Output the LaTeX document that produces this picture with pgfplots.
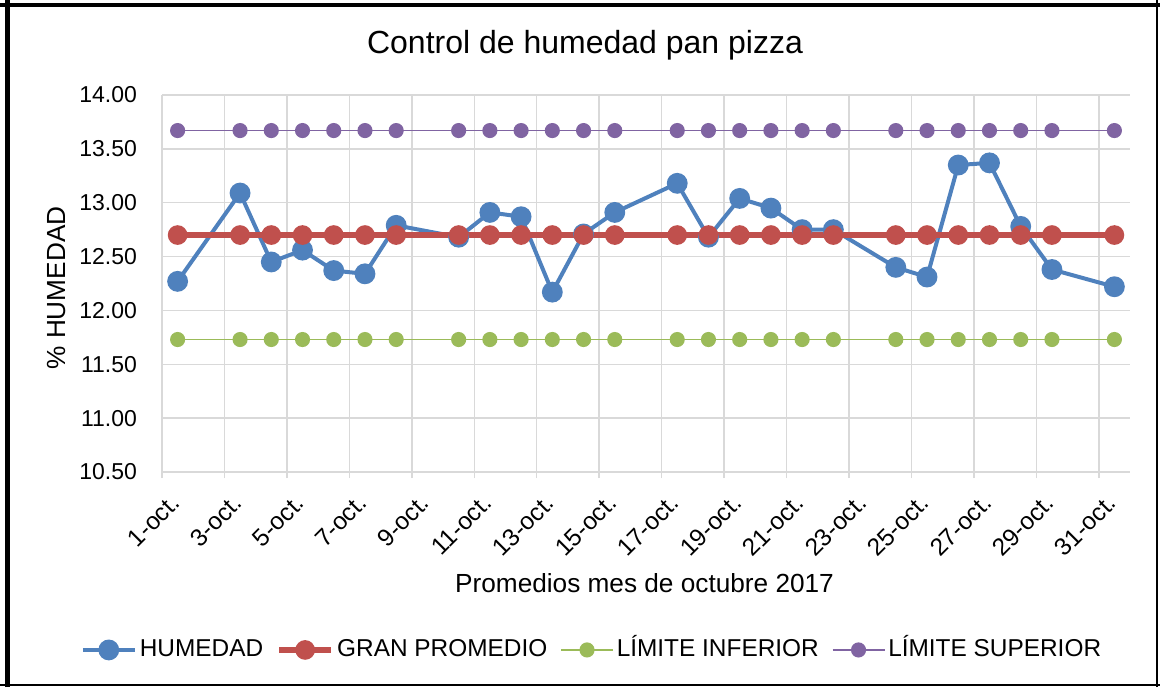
\documentclass[border=0pt]{standalone}
\usepackage{pgfplots}
\pgfplotsset{compat=1.18}
\usepackage{pgfplotstable}
\usepackage{fontspec}
\setmainfont{Liberation Sans}
\definecolor{cblue}{HTML}{4F81BD}
\definecolor{cred}{HTML}{C0504D}
\definecolor{cgreen}{HTML}{9BBB59}
\definecolor{cpurple}{HTML}{8064A2}
\definecolor{cgrid}{HTML}{D9D9D9}
\pgfplotstableread{
day hum gp li ls
1 12.27 12.70 11.73 13.67
3 13.09 12.70 11.73 13.67
4 12.45 12.70 11.73 13.67
5 12.56 12.70 11.73 13.67
6 12.37 12.70 11.73 13.67
7 12.34 12.70 11.73 13.67
8 12.79 12.70 11.73 13.67
10 12.68 12.70 11.73 13.67
11 12.91 12.70 11.73 13.67
12 12.87 12.70 11.73 13.67
13 12.17 12.70 11.73 13.67
14 12.71 12.70 11.73 13.67
15 12.91 12.70 11.73 13.67
17 13.18 12.70 11.73 13.67
18 12.68 12.70 11.73 13.67
19 13.04 12.70 11.73 13.67
20 12.95 12.70 11.73 13.67
21 12.75 12.70 11.73 13.67
22 12.75 12.70 11.73 13.67
24 12.40 12.70 11.73 13.67
25 12.31 12.70 11.73 13.67
26 13.35 12.70 11.73 13.67
27 13.37 12.70 11.73 13.67
28 12.78 12.70 11.73 13.67
29 12.38 12.70 11.73 13.67
31 12.22 12.70 11.73 13.67
}\datatable
\begin{document}
\begin{tikzpicture}
\useasboundingbox (0,0) rectangle (580pt,343.5pt);
\begin{axis}[
  at={(81pt,107.5pt)}, anchor=south west,
  scale only axis, width=484pt, height=188.5pt,
  xmin=0.5, xmax=31.5, ymin=10.5, ymax=14,
  xtick={0.5,2.5,...,30.5},
  xticklabels={1-oct.,3-oct.,5-oct.,7-oct.,9-oct.,11-oct.,13-oct.,15-oct.,17-oct.,19-oct.,21-oct.,23-oct.,25-oct.,27-oct.,29-oct.,31-oct.},
  ytick={10.5,11,...,14},
  yticklabel style={/pgf/number format/fixed, /pgf/number format/fixed zerofill, /pgf/number format/precision=2, xshift=-6pt},
  /pgf/number format/assume math mode=true,
  tick label style={font=\fontsize{11.5pt}{13pt}\selectfont},
  xticklabel style={font=\fontsize{12.2pt}{14pt}\selectfont, xshift=9pt, yshift=-8pt, rotate=45, anchor=east},
  grid=major,
  grid style={cgrid, line width=0.75pt},
  axis line style={draw=none},
  xtick pos=bottom, ytick pos=left,
  tick align=outside, major tick length=3pt,
  xtick style={cgrid, line width=0.75pt},
  ytick style={draw=none},
  legend columns=4,
  legend style={at={(axis description cs:0.4447,-0.472)}, anchor=center, draw=none, fill=none,
    font=\fontsize{12.2pt}{14pt}\selectfont, inner sep=0pt,
    nodes={inner sep=1.5pt, text height=9pt, text depth=2.5pt},
    /tikz/every even column/.append style={column sep=5pt}},
  legend cell align=left,
  legend image code/.code={\draw[mark repeat=2,mark phase=2,#1] plot coordinates {(0pt,0pt) (13pt,0pt) (26pt,0pt)};},
]
\addplot[cblue, line width=2pt, mark=*, mark size=4.2pt, mark options={draw=none, fill=cblue}] table[x=day,y=hum] {\datatable};
\addlegendentry{HUMEDAD}
\addplot[cred, line width=3pt, mark=*, mark size=3.4pt, mark options={draw=none, fill=cred}] table[x=day,y=gp] {\datatable};
\addlegendentry{GRAN PROMEDIO}
\addplot[cgreen, line width=0.75pt, mark=*, mark size=3.4pt, mark options={draw=none, fill=cgreen}] table[x=day,y=li] {\datatable};
\addlegendentry{LÍMITE INFERIOR}
\addplot[cpurple, line width=0.75pt, mark=*, mark size=3.4pt, mark options={draw=none, fill=cpurple}] table[x=day,y=ls] {\datatable};
\addlegendentry{LÍMITE SUPERIOR}
\end{axis}
\node[anchor=base, font=\fontsize{16pt}{19pt}\selectfont] at (292.5pt,316.5pt) {Control de humedad pan pizza};
\node[anchor=base, font=\fontsize{13.1pt}{15pt}\selectfont] at (322.25pt,47.5pt) {Promedios mes de octubre 2017};
\node[anchor=base, rotate=90, font=\fontsize{13.1pt}{15pt}\selectfont] at (32.5pt,199.5pt) {\% HUMEDAD};
\draw[line width=2.5pt] (3.75pt,0pt) -- (3.75pt,343.5pt);
\draw[line width=2pt] (0pt,341pt) -- (580pt,341pt);
\draw[line width=1pt] (578.5pt,0pt) -- (578.5pt,343.5pt);
\draw[line width=1pt] (0pt,1pt) -- (580pt,1pt);
\end{tikzpicture}
\end{document}
